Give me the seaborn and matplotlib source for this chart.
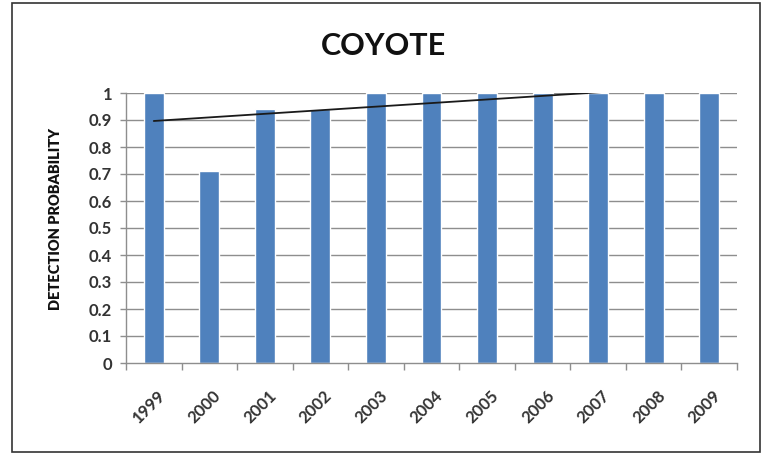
import numpy as np
import pandas as pd
import matplotlib
matplotlib.use("Agg")
import matplotlib.pyplot as plt
import matplotlib.transforms as mtrans
from matplotlib.patches import Rectangle
import seaborn as sns

years = ["1999", "2000", "2001", "2002", "2003", "2004", "2005", "2006", "2007", "2008", "2009"]
detection = [1.0, 0.71, 0.94, 0.94, 1.0, 1.0, 1.0, 1.0, 1.0, 1.0, 1.0]
y_ticks = [0, 0.1, 0.2, 0.3, 0.4, 0.5, 0.6, 0.7, 0.8, 0.9, 1]
y_tick_labels = ["0", "0.1", "0.2", "0.3", "0.4", "0.5", "0.6", "0.7", "0.8", "0.9", "1"]

sns.set_theme(style="white")
plt.rcParams["font.family"] = ["Lato", "DejaVu Sans"]

df = pd.DataFrame({"year": years, "p": detection})

fig = plt.figure(figsize=(7.66, 4.54), dpi=100)
W, H = 766, 454
ax = fig.add_axes([126 / W, 1 - 363 / H, (737 - 126) / W, (363 - 93) / H])

grid_c = "#8e8e8e"
for v in y_ticks[1:]:
    ax.axhline(v, color=grid_c, lw=1.0, zorder=0)

sns.barplot(data=df, x="year", y="p", color="#4F81BD", width=0.36,
            saturation=1, ax=ax, zorder=2)

# linear trend line across all years
xs = np.arange(len(years))
slope, intercept = np.polyfit(xs, detection, 1)
ax.plot(xs, intercept + slope * xs, color="#1a1a1a", lw=1.3, zorder=3)

ax.set_xlim(-0.5, len(years) - 0.5)
ax.set_ylim(0, 1)
ax.set_yticks(y_ticks)
ax.set_yticklabels(y_tick_labels)
ax.set_xlabel("")
ax.set_ylabel("")

for s in ["top", "right"]:
    ax.spines[s].set_visible(False)
for s in ["left", "bottom"]:
    ax.spines[s].set_color(grid_c)
    ax.spines[s].set_linewidth(1.0)

ax.tick_params(axis="y", length=4, color=grid_c, width=1, pad=6,
               labelsize=12, labelcolor="#333333", left=True)
ax.set_xticks(np.arange(-0.5, len(years), 1.0), minor=True)
ax.tick_params(axis="x", which="minor", length=5, color=grid_c, width=1,
               direction="out", bottom=True)
ax.tick_params(axis="x", which="major", length=0, pad=0, labelsize=12,
               labelcolor="#333333")
shift = mtrans.ScaledTranslation(9 / 100, -30 / 100, fig.dpi_scale_trans)
for lbl in ax.get_xticklabels():
    lbl.set_rotation(45)
    lbl.set_ha("right")
    lbl.set_va("center")
    lbl.set_rotation_mode("anchor")
    lbl.set_fontweight("bold")
    lbl.set_transform(lbl.get_transform() + shift)
for lbl in ax.get_yticklabels():
    lbl.set_fontweight("bold")

fig.text(0.5, 1 - 46 / H, "COYOTE", ha="center", va="center",
         fontsize=22, fontweight="bold", color="#111111")
fig.text(56 / W, 1 - 219 / H, "DETECTION PROBABILITY", ha="center", va="center",
         rotation=90, fontsize=10.5, fontweight="heavy", color="#111111")

fig.add_artist(Rectangle((12 / W, 2 / H), (760 - 12) / W, (451 - 2) / H,
                         transform=fig.transFigure, fill=False,
                         edgecolor="#333333", lw=1.2))

fig.savefig("out.png", dpi=100)
